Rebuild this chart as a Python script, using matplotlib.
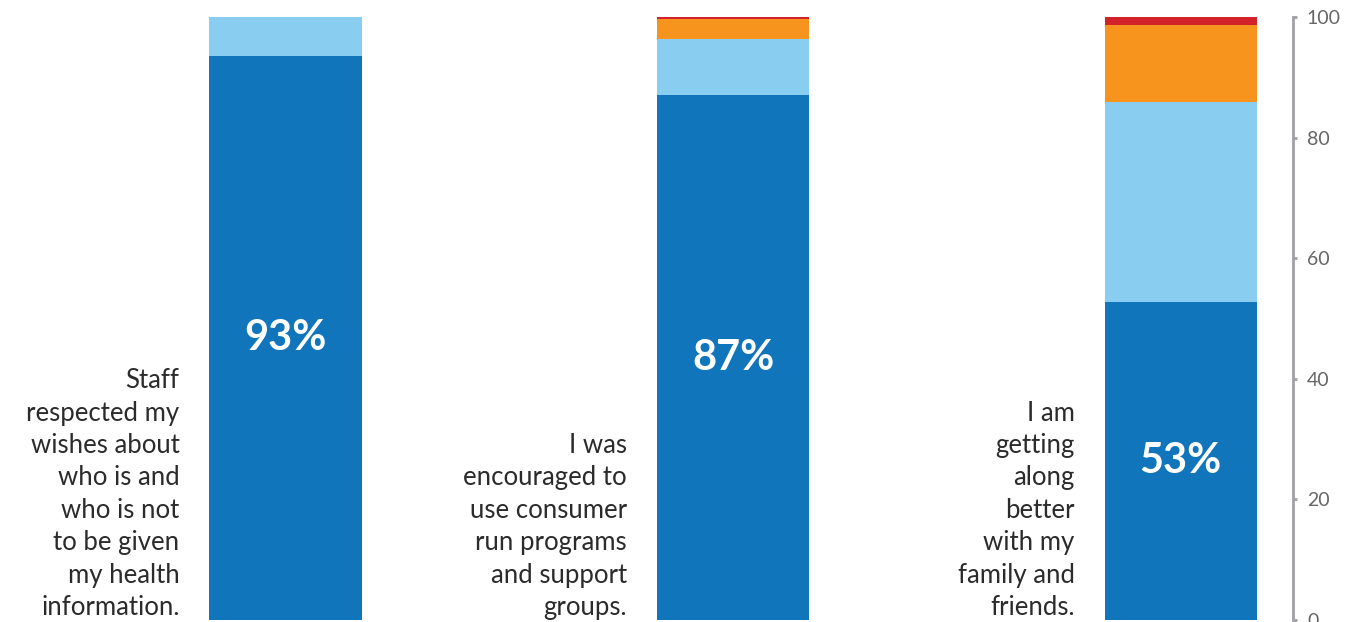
import numpy as np
import matplotlib.pyplot as plt

# Datos (porcentajes apilados)
preguntas = [
    "Staff\nrespected my\nwishes about\nwho is and\nwho is not\nto be given\nmy health\ninformation.",
    "I was\nencouraged to\nuse consumer\nrun programs\nand support\ngroups.",
    "I am\ngetting\nalong\nbetter\nwith my\nfamily and\nfriends.",
]
muy_de_acuerdo = [93.5, 87, 52.7]
de_acuerdo = [6.5, 9.3, 33.2]
neutral = [0, 3.3, 12.8]
en_desacuerdo = [0, 0.4, 1.3]
etiquetas = ["93%", "87%", "53%"]

colores = ["#1075bb", "#89cdf1", "#f7941d", "#d2232a"]
ticks_y = [0, 20, 40, 60, 80, 100]

plt.rcParams['font.family'] = ['Lato', 'DejaVu Sans']

fig = plt.figure(figsize=(13.69, 6.22), dpi=100)
ax = fig.add_axes([0, 2 / 622, 1293 / 1369, 603 / 622])

x = np.arange(len(preguntas))
ancho = 0.34
base = np.zeros(len(x))
for serie, color in zip([muy_de_acuerdo, de_acuerdo, neutral, en_desacuerdo], colores):
    ax.bar(x, serie, ancho, bottom=base, color=color, linewidth=0)
    base += np.array(serie)

# Etiquetas de porcentaje dentro de la barra
for xi, v, txt in zip(x, muy_de_acuerdo, etiquetas):
    ax.text(xi, v / 2, txt, ha='center', va='center', color='white',
            fontsize=30, fontweight='bold')

# Texto de cada pregunta a la izquierda de su barra
for xi, txt in zip(x, preguntas):
    ax.text(xi - ancho / 2 - 30 / 448, 0, txt, ha='right', va='bottom',
            multialignment='right', fontsize=18.5, color='#2b2b2b',
            linespacing=1.37)

ax.set_xlim(-0.638, 2.251)
ax.set_ylim(0, 100)
ax.set_xticks([])
ax.set_yticks(ticks_y)
ax.yaxis.tick_right()
for lado in ['left', 'top', 'bottom']:
    ax.spines[lado].set_visible(False)
ax.spines['right'].set_color('#a0a0a5')
ax.spines['right'].set_linewidth(2)
ax.tick_params(axis='y', colors='#a0a0a5', length=3, width=2, pad=7,
               labelsize=14, labelcolor='#666666')

fig.savefig('out.png', dpi=100)
